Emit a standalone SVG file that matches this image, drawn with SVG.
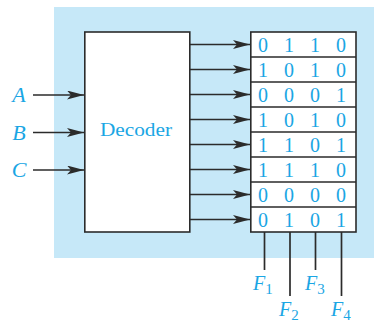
<svg xmlns="http://www.w3.org/2000/svg" width="374" height="323" viewBox="0 0 374 323">
<defs>
<style>
.ln{stroke:#2b2b2b;stroke-width:1.7;fill:none}
.box{stroke:#2b2b2b;stroke-width:1.6;fill:#fff}
.t{font-family:"Liberation Serif","DejaVu Serif",serif;fill:#1aa6e4}
.d{font-size:20px;text-anchor:middle}
.v{font-size:22px;font-style:italic;text-anchor:middle}
.s{font-size:15px;font-style:normal}
</style>
<marker id="ah" viewBox="0 0 17 9" refX="17" refY="4.5" markerWidth="17" markerHeight="9" markerUnits="userSpaceOnUse" orient="auto">
<path d="M0,0 L17,4.5 L0,9 L4,4.5 Z" fill="#2b2b2b"/>
</marker>
</defs>
<rect x="54" y="7" width="320" height="251" fill="#c6e8f8"/>
<g id="connectors">
<line class="ln" x1="33" y1="95" x2="84" y2="95" marker-end="url(#ah)"/>
<line class="ln" x1="33" y1="132.5" x2="84" y2="132.5" marker-end="url(#ah)"/>
<line class="ln" x1="33" y1="170" x2="84" y2="170" marker-end="url(#ah)"/>
<line class="ln" x1="190" y1="44.5" x2="250" y2="44.5" marker-end="url(#ah)"/>
<line class="ln" x1="190" y1="69.5" x2="250" y2="69.5" marker-end="url(#ah)"/>
<line class="ln" x1="190" y1="94.5" x2="250" y2="94.5" marker-end="url(#ah)"/>
<line class="ln" x1="190" y1="119.5" x2="250" y2="119.5" marker-end="url(#ah)"/>
<line class="ln" x1="190" y1="144.5" x2="250" y2="144.5" marker-end="url(#ah)"/>
<line class="ln" x1="190" y1="169.5" x2="250" y2="169.5" marker-end="url(#ah)"/>
<line class="ln" x1="190" y1="194.5" x2="250" y2="194.5" marker-end="url(#ah)"/>
<line class="ln" x1="190" y1="219.5" x2="250" y2="219.5" marker-end="url(#ah)"/>
<line class="ln" x1="264.5" y1="232" x2="264.5" y2="270"/>
<line class="ln" x1="290" y1="232" x2="290" y2="296"/>
<line class="ln" x1="315.5" y1="232" x2="315.5" y2="270"/>
<line class="ln" x1="341.5" y1="232" x2="341.5" y2="296"/>
</g>
<g id="inputs">
<text class="t v" x="19" y="102">A</text>
<text class="t v" x="19" y="140">B</text>
<text class="t v" x="19" y="177">C</text>
</g>
<g id="decoder">
<rect class="box" x="84.8" y="32" width="105" height="200"/>
<text class="t" x="136" y="136" font-size="19" text-anchor="middle" textLength="72" lengthAdjust="spacingAndGlyphs">Decoder</text>
</g>
<g id="memory">
<rect class="box" x="250.8" y="32" width="105.2" height="200"/>
<path class="ln" d="M250.8,57H356M250.8,82H356M250.8,107H356M250.8,132H356M250.8,157H356M250.8,182H356M250.8,207H356"/>
<g class="t d">
<text x="263" y="51.5">0</text><text x="289" y="51.5">1</text><text x="315" y="51.5">1</text><text x="341" y="51.5">0</text>
<text x="263" y="76.5">1</text><text x="289" y="76.5">0</text><text x="315" y="76.5">1</text><text x="341" y="76.5">0</text>
<text x="263" y="101.5">0</text><text x="289" y="101.5">0</text><text x="315" y="101.5">0</text><text x="341" y="101.5">1</text>
<text x="263" y="126.5">1</text><text x="289" y="126.5">0</text><text x="315" y="126.5">1</text><text x="341" y="126.5">0</text>
<text x="263" y="151.5">1</text><text x="289" y="151.5">1</text><text x="315" y="151.5">0</text><text x="341" y="151.5">1</text>
<text x="263" y="176.5">1</text><text x="289" y="176.5">1</text><text x="315" y="176.5">1</text><text x="341" y="176.5">0</text>
<text x="263" y="201.5">0</text><text x="289" y="201.5">0</text><text x="315" y="201.5">0</text><text x="341" y="201.5">0</text>
<text x="263" y="226.5">0</text><text x="289" y="226.5">1</text><text x="315" y="226.5">0</text><text x="341" y="226.5">1</text>
</g>
</g>
<g id="outputs">
<text class="t" x="253" y="290" font-size="20" font-style="italic">F<tspan class="s" dy="4">1</tspan></text>
<text class="t" x="279" y="316" font-size="20" font-style="italic">F<tspan class="s" dy="4">2</tspan></text>
<text class="t" x="305" y="290" font-size="20" font-style="italic">F<tspan class="s" dy="4">3</tspan></text>
<text class="t" x="331" y="316" font-size="20" font-style="italic">F<tspan class="s" dy="4">4</tspan></text>
</g>
</svg>
